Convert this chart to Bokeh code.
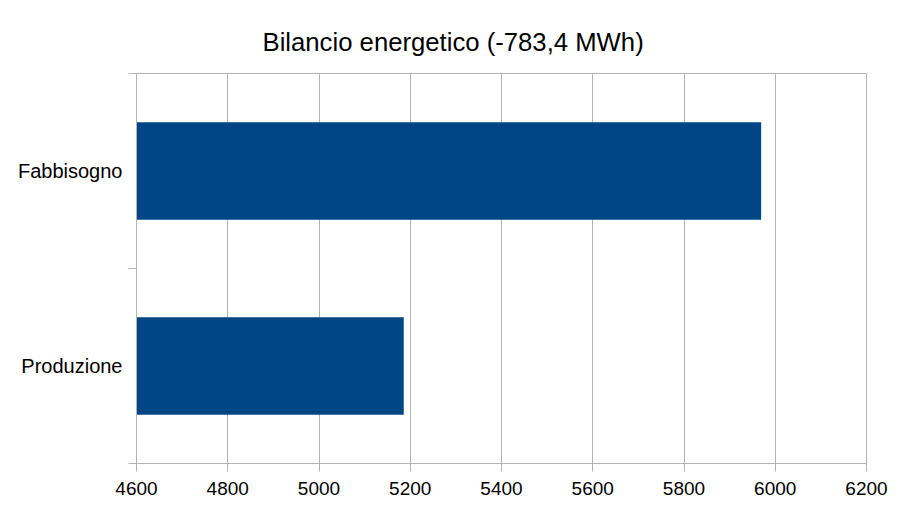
from bokeh.plotting import figure
from bokeh.models import Range1d, FixedTicker
from bokeh.embed import file_html
from bokeh.resources import INLINE

# Data (top-to-bottom order as shown)
title_text = "Bilancio energetico (-783,4 MWh)"
categories = ["Fabbisogno", "Produzione"]
values = [5969.1, 5185.7]
x_ticks = [4600, 4800, 5000, 5200, 5400, 5600, 5800, 6000, 6200]

x_start, x_end = x_ticks[0], x_ticks[-1]
n = len(categories)
# bottom-to-top numeric positions (category centres)
ys = [n - 1 - i + 0.5 for i in range(n)]

GRID = "#b3b3b3"
BAR = "#004586"
FONT = "Liberation Sans"

p = figure(width=899, height=502, output_backend="svg", toolbar_location=None,
           x_range=Range1d(x_start, x_end), y_range=Range1d(0, n),
           min_border_left=136, min_border_right=33, min_border_top=73, min_border_bottom=39)

p.hbar(y=ys, left=x_start, right=values, height=0.5, fill_color=BAR, line_color=None)

# Title
p.title.text = title_text
p.title.text_font = FONT
p.title.text_font_size = "25.7px"
p.title.text_font_style = "normal"
p.title.text_color = "#000000"
p.title.align = "left"
p.title.offset = 126
p.title.standoff = 36

# X axis
xa = p.xaxis[0]
xa.ticker = FixedTicker(ticks=x_ticks, minor_ticks=[])
xa.axis_line_color = GRID
xa.major_tick_line_color = GRID
xa.major_tick_out = 8
xa.major_tick_in = 0
xa.minor_tick_line_color = None
xa.major_label_text_font = FONT
xa.major_label_text_font_size = "19px"
xa.major_label_text_color = "#000000"
xa.major_label_standoff = 10

# Y axis: labels at category centres, ticks at category boundaries
ya = p.yaxis[0]
ya.ticker = FixedTicker(ticks=ys, minor_ticks=list(range(n + 1)))
ya.major_label_overrides = {y: c for y, c in zip(ys, categories)}
ya.axis_line_color = GRID
ya.major_tick_line_color = None
ya.major_tick_out = 0
ya.major_tick_in = 0
ya.minor_tick_line_color = GRID
ya.minor_tick_out = 8
ya.minor_tick_in = 0
ya.major_label_text_font = FONT
ya.major_label_text_font_size = "20px"
ya.major_label_text_color = "#000000"
ya.major_label_standoff = 6

# Grid
p.xgrid.grid_line_color = GRID
p.xgrid.ticker = FixedTicker(ticks=x_ticks)
p.ygrid.grid_line_color = None
p.outline_line_color = GRID
p.background_fill_color = "white"
p.border_fill_color = "white"

open("out.html", "w").write(file_html(p, INLINE))
